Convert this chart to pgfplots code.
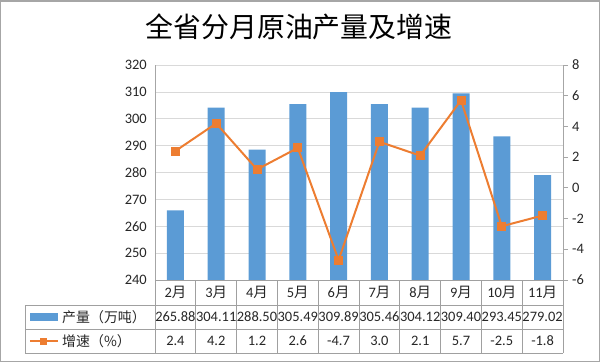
\documentclass[border=0pt]{standalone}
\usepackage{pgfplots}
\pgfplotsset{compat=1.18}
\usepackage{fontspec}
\setmainfont{Carlito}
\newfontfamily\cjk{Noto Sans CJK SC}
\definecolor{barblue}{HTML}{5B9BD5}
\definecolor{lineorange}{HTML}{ED7D31}
\definecolor{gridgray}{HTML}{D9D9D9}
\definecolor{axgray}{HTML}{A6A6A6}
\definecolor{tabgray}{HTML}{A0A0A0}
\definecolor{txt}{HTML}{262626}
\newcommand\yue{{\cjk 月}}
\begin{document}
\begin{tikzpicture}[x=1bp,y=1bp]
\useasboundingbox (-155,-82) rectangle (445,280);
\draw[axgray, line width=1.5bp] (-154.25,-81.25) rectangle (444.25,279.25);
\node[font=\cjk\fontsize{28}{32}\selectfont, text=black] at (144,253) {全省分月原油产量及增速};

\begin{axis}[
  scale only axis, width=408bp, height=215bp,
  xmin=-0.5, xmax=9.5, ymin=240, ymax=320, ytick distance=10,
  xtick=\empty,
  axis line style={draw=none},
  tick style={draw=none}, major tick length=0pt,
  ymajorgrids, grid style={gridgray, line width=0.75bp},
  /pgf/number format/assume math mode=true,
  yticklabel style={font=\fontsize{14.5}{16}\selectfont, text=txt, inner sep=0pt, anchor=east, xshift=-8bp},
]
\addplot[ybar, bar width=17bp, fill=barblue, draw=none] coordinates {
 (0,265.88) (1,304.11) (2,288.50) (3,305.49) (4,309.89)
 (5,305.46) (6,304.12) (7,309.40) (8,293.45) (9,279.02)};
\end{axis}

\begin{axis}[
  scale only axis, width=408bp, height=215bp,
  xmin=-0.5, xmax=9.5, ymin=-6, ymax=8, ytick distance=2,
  axis y line*=right, axis x line=none,
  y axis line style={draw=axgray, line width=0.75bp},
  ytick style={draw=axgray, line width=0.75bp},
  tick align=outside, major tick length=5bp,
  /pgf/number format/assume math mode=true,
  yticklabel style={font=\fontsize{14.5}{16}\selectfont, text=txt, inner sep=0pt, anchor=west, xshift=4bp},
]
\addplot[lineorange, line width=2bp, mark=square*, mark size=3.5bp, mark options={fill=lineorange, draw=lineorange}] coordinates {
 (0,2.4) (1,4.2) (2,1.2) (3,2.6) (4,-4.7) (5,3.0) (6,2.1) (7,5.7) (8,-2.5) (9,-1.8)};
\end{axis}

% frame and data table
\draw[axgray, line width=0.75bp] (0,0) -- (0,215);
\begin{scope}[tabgray, line width=0.75bp]
\draw (0,0) -- (408,0);
\foreach \i in {0,...,10} \draw (\i*40.8,0) -- (\i*40.8,-73);
\draw (-130,-25) -- (408,-25);
\draw (-130,-49) -- (408,-49);
\draw (-130,-73) -- (408,-73);
\draw (-130,-25) -- (-130,-73);
\end{scope}
\foreach \m [count=\i from 0] in {2,3,4,5,6,7,8,9,10,11}
  \node[font=\fontsize{14.5}{16}\selectfont, text=txt] at (\i*40.8+20.4,-12.5) {\m\yue};
\foreach \v [count=\i from 0] in {265.88,304.11,288.50,305.49,309.89,305.46,304.12,309.40,293.45,279.02}
  \node[font=\fontsize{14.5}{16}\selectfont, text=txt] at (\i*40.8+20.4,-37) {\v};
\foreach \v [count=\i from 0] in {2.4,4.2,1.2,2.6,-4.7,3.0,2.1,5.7,-2.5,-1.8}
  \node[font=\fontsize{14.5}{16}\selectfont, text=txt] at (\i*40.8+20.4,-61) {\v};
% legend keys
\fill[barblue] (-125,-41) rectangle (-97,-33);
\draw[lineorange, line width=2bp] (-125,-61) -- (-97,-61);
\fill[lineorange] (-114.5,-64.5) rectangle (-107.5,-57.5);
\node[font=\cjk\fontsize{14}{16}\selectfont, text=txt, anchor=west, inner sep=0pt] at (-93,-37) {产量（万吨）};
\node[font=\cjk\fontsize{14}{16}\selectfont, text=txt, anchor=west, inner sep=0pt] at (-93,-61) {增速（\%）};
\end{tikzpicture}
\end{document}
